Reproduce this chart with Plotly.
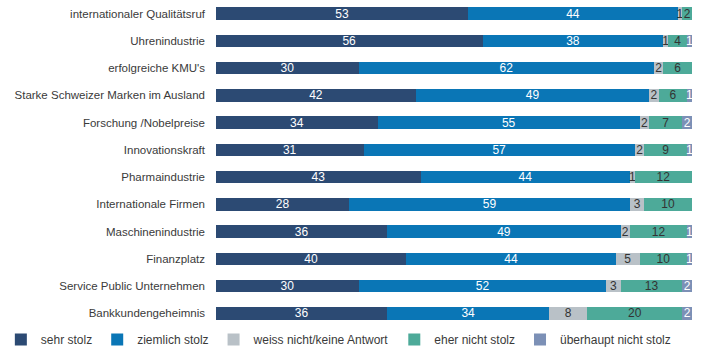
import plotly.graph_objects as go

categories = [
    "internationaler Qualitätsruf",
    "Uhrenindustrie",
    "erfolgreiche KMU's",
    "Starke Schweizer Marken im Ausland",
    "Forschung /Nobelpreise",
    "Innovationskraft",
    "Pharmaindustrie",
    "Internationale Firmen",
    "Maschinenindustrie",
    "Finanzplatz",
    "Service Public Unternehmen",
    "Bankkundengeheimnis",
]

sehr_stolz = [53, 56, 30, 42, 34, 31, 43, 28, 36, 40, 30, 36]
ziemlich_stolz = [44, 38, 62, 49, 55, 57, 44, 59, 49, 44, 52, 34]
weiss_nicht = [1, 1, 2, 2, 2, 2, 1, 3, 2, 5, 3, 8]
eher_nicht_stolz = [2, 4, 6, 6, 7, 9, 12, 10, 12, 10, 13, 20]
ueberhaupt_nicht = [0, 1, 0, 1, 2, 1, 0, 0, 1, 1, 2, 2]

series = [
    ("sehr stolz", sehr_stolz, "#2c4a73", "#ffffff"),
    ("ziemlich stolz", ziemlich_stolz, "#0a76b6", "#ffffff"),
    ("weiss nicht/keine Antwort", weiss_nicht, "#b9c1c7", "#333333"),
    ("eher nicht stolz", eher_nicht_stolz, "#4daa99", "#333333"),
    ("überhaupt nicht stolz", ueberhaupt_nicht, "#7c90b6", "#ffffff"),
]

FONT = "Liberation Sans, Arial, sans-serif"

fig = go.Figure()
for name, vals, color, txtcol in series:
    fig.add_trace(go.Bar(
        name=name,
        y=categories,
        x=vals,
        orientation="h",
        marker=dict(color=color, line=dict(width=0)),
        text=[str(v) if v else "" for v in vals],
        textposition="inside",
        insidetextanchor="middle",
        textangle=0,
        textfont=dict(family=FONT, size=12, color=txtcol),
        hoverinfo="x+y+name",
    ))

fig.update_layout(
    barmode="stack",
    bargap=0.54,
    width=710,
    height=347,
    margin=dict(l=216, r=18, t=0, b=20, autoexpand=False),
    paper_bgcolor="#ffffff",
    plot_bgcolor="#ffffff",
    font=dict(family=FONT, size=11.5, color="#3a3a3a"),
    uniformtext=dict(minsize=12, mode="show"),
    xaxis=dict(
        range=[0, 100],
        visible=False,
        showgrid=False,
        zeroline=False,
    ),
    yaxis=dict(
        autorange="reversed",
        showgrid=False,
        zeroline=False,
        showline=False,
        ticks="",
        ticklabelstandoff=10,
        tickfont=dict(family=FONT, size=11.5, color="#3a3a3a"),
    ),
    legend=dict(
        orientation="h",
        x=-0.452,
        xanchor="left",
        y=-0.038,
        yanchor="middle",
        font=dict(family=FONT, size=12, color="#3a3a3a"),
        traceorder="normal",
        itemclick=False,
        bgcolor="rgba(0,0,0,0)",
    ),
)

fig.write_html("out.html")
